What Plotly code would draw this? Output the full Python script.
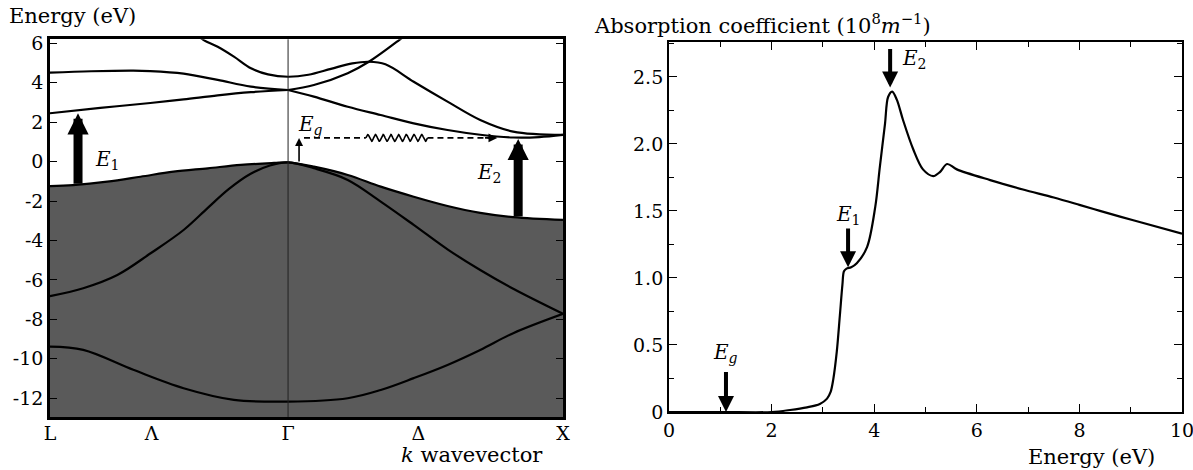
import numpy as np
import plotly.graph_objects as go

# ---------------- Band structure (left panel) ----------------
K_L, K_G, K_X = 0.0, 0.866, 1.866
k_tickvals = [0.0, 0.37, 0.866, 1.34, 1.866]
k_ticktext = ["L", "Λ", "Γ", "Δ", "X"]
e_tickvals = [-12, -10, -8, -6, -4, -2, 0, 2, 4, 6]
e_ticktext = ["-12", "-10", "-8", "-6", "-4", "-2", "0", "2", "4", "6"]
E_MIN, E_MAX = -12.95, 6.2

# top valence band (boundary of the filled region)
vb1_k = [0.0, 0.084, 0.208, 0.329, 0.449, 0.574, 0.694, 0.815, 0.866,
         0.960, 1.083, 1.203, 1.323, 1.446, 1.565, 1.685, 1.866]
vb1_e = [-1.24, -1.19, -1.02, -0.77, -0.51, -0.34, -0.17, -0.07, -0.04,
         -0.26, -0.68, -1.27, -1.78, -2.25, -2.60, -2.82, -2.96]
# second valence band
vb2_k = [0.0, 0.121, 0.245, 0.366, 0.486, 0.574, 0.65, 0.73, 0.80, 0.866,
         0.960, 1.083, 1.203, 1.323, 1.446, 1.565, 1.685, 1.866]
vb2_e = [-6.82, -6.42, -5.75, -4.65, -3.47, -2.35, -1.40, -0.62, -0.20, -0.04,
         -0.34, -0.93, -2.03, -3.21, -4.45, -5.50, -6.45, -7.72]
# lowest valence band
vb3_k = [0.0, 0.121, 0.303, 0.486, 0.669, 0.866, 1.083, 1.203,
         1.323, 1.446, 1.565, 1.685, 1.866]
vb3_e = [-9.38, -9.55, -10.56, -11.49, -12.08, -12.17, -12.0,
         -11.58, -10.98, -10.31, -9.55, -8.70, -7.72]
# conduction bands
cbL1_k = [0.0, 0.183, 0.365, 0.486, 0.610, 0.731, 0.866]
cbL1_e = [2.45, 2.72, 2.97, 3.15, 3.36, 3.52, 3.63]
cbL2_k = [0.0, 0.150, 0.303, 0.365, 0.486, 0.610, 0.731, 0.866]
cbL2_e = [4.51, 4.58, 4.61, 4.59, 4.46, 4.14, 3.80, 3.63]
cbA_k = [0.52, 0.559, 0.610, 0.669, 0.731, 0.793, 0.866, 0.94, 1.022,
         1.10, 1.16, 1.22, 1.323, 1.446, 1.565, 1.685, 1.866]
cbA_e = [6.6, 6.16, 5.82, 5.32, 4.73, 4.42, 4.30, 4.40, 4.70,
         4.98, 5.06, 4.93, 4.05, 3.04, 2.11, 1.52, 1.35]
cbB_k = [0.866, 0.96, 1.083, 1.16, 1.27, 1.31]
cbB_e = [3.63, 3.88, 4.48, 5.06, 6.16, 6.6]
cbC_k = [0.866, 0.96, 1.083, 1.203, 1.323, 1.446, 1.565, 1.685, 1.78, 1.866]
cbC_e = [3.63, 3.29, 2.78, 2.36, 1.94, 1.60, 1.36, 1.22, 1.24, 1.35]

# transitions
E1_k, E1_from, E1_to = 0.102, -1.2, 2.45
E2_k, E2_from, E2_to = 1.703, -2.86, 1.15
Eg_k, Eg_from, Eg_to = 0.906, -0.07, 1.2
dash_e = 1.2
dash1 = [0.924, 1.149]
wave = [1.149, 1.373]
dash2 = [1.373, 1.627]
wave_periods, wave_amp = 8, 0.17

# ---------------- Absorption (right panel) ----------------
abs_x = [0, 1.0, 2.0, 2.36, 2.69, 2.94, 3.08, 3.15, 3.2, 3.27, 3.33, 3.38,
         3.41, 3.46, 3.55, 3.66, 3.86, 4.02, 4.11, 4.21, 4.27, 4.35, 4.44,
         4.56, 4.76, 4.95, 5.15, 5.28, 5.42, 5.61, 6.26, 6.9, 7.5, 8.0,
         8.4, 9.05, 10]
abs_y = [0, 0, 0, 0.015, 0.035, 0.06, 0.10, 0.15, 0.24, 0.45, 0.72, 0.95,
         1.05, 1.07, 1.08, 1.11, 1.23, 1.53, 1.83, 2.15, 2.35, 2.39, 2.33,
         2.18, 1.96, 1.81, 1.76, 1.79, 1.85, 1.81, 1.73, 1.66, 1.60, 1.545,
         1.50, 1.43, 1.33]
abs_xticks = [0, 2, 4, 6, 8, 10]
abs_yticks = [0, 0.5, 1.0, 1.5, 2.0, 2.5]
abs_yticktext = ["0", "0.5", "1.0", "1.5", "2.0", "2.5"]

FONT = "DejaVu Serif, serif"
FILL = "#5a5a5a"

fig = go.Figure()

# baseline for the filled valence region, then the top band filled down to it
fig.add_trace(go.Scatter(x=[K_L, K_X], y=[E_MIN - 1, E_MIN - 1], mode="lines",
                         line=dict(width=0, color=FILL), hoverinfo="skip",
                         xaxis="x", yaxis="y", showlegend=False))
fig.add_trace(go.Scatter(x=vb1_k, y=vb1_e, mode="lines", fill="tonexty", fillcolor=FILL,
                         line=dict(color="black", width=2.2, shape="spline", smoothing=1.0),
                         xaxis="x", yaxis="y", showlegend=False))

for kk, ee in [(vb2_k, vb2_e), (vb3_k, vb3_e),
               (cbL1_k, cbL1_e), (cbL2_k, cbL2_e), (cbA_k, cbA_e),
               (cbB_k, cbB_e), (cbC_k, cbC_e)]:
    fig.add_trace(go.Scatter(x=kk, y=ee, mode="lines",
                             line=dict(color="black", width=2.2, shape="spline", smoothing=1.0),
                             xaxis="x", yaxis="y", showlegend=False))

# dashed + wavy transfer line
for seg in (dash1, dash2):
    fig.add_trace(go.Scatter(x=seg, y=[dash_e, dash_e], mode="lines",
                             line=dict(color="black", width=1.6, dash="6px,4px"),
                             xaxis="x", yaxis="y", showlegend=False))
wx = np.linspace(wave[0], wave[1], 200)
wy = dash_e + wave_amp * np.sin(2 * np.pi * wave_periods * (wx - wave[0]) / (wave[1] - wave[0]))
fig.add_trace(go.Scatter(x=wx, y=wy, mode="lines", line=dict(color="black", width=1.6),
                         xaxis="x", yaxis="y", showlegend=False))

# absorption curve
fig.add_trace(go.Scatter(x=abs_x, y=abs_y, mode="lines",
                         line=dict(color="black", width=2.2, shape="spline", smoothing=0.9),
                         xaxis="x2", yaxis="y2", showlegend=False))

ann = []
def arrow(xref, yref, x, y0, y1, w, s):
    ann.append(dict(x=x, y=y1, ax=x, ay=y0, xref=xref, yref=yref, axref=xref, ayref=yref,
                    text="", showarrow=True, arrowhead=2, arrowwidth=w, arrowsize=s,
                    arrowcolor="black", standoff=0, startstandoff=0))

def label(xref, yref, x, y, txt, xanchor="center"):
    ann.append(dict(x=x, y=y, xref=xref, yref=yref, text=txt, showarrow=False,
                    xanchor=xanchor, yanchor="middle", font=dict(family=FONT, size=20, color="black")))

arrow("x", "y", E1_k, E1_from, E1_to, 9, 0.47)
arrow("x", "y", E2_k, E2_from, E2_to, 9, 0.47)
arrow("x", "y", Eg_k, Eg_from, Eg_to, 1.6, 1.0)
# arrowhead at the end of the dashed line
ann.append(dict(x=dash2[1], y=dash_e, ax=dash2[1] - 0.05, ay=dash_e, xref="x", yref="y",
                axref="x", ayref="y", text="", showarrow=True, arrowhead=2,
                arrowwidth=1.6, arrowsize=1.1, arrowcolor="black", standoff=0))
label("x", "y", 0.208, 0.08, "<i>E</i><sub>1</sub>")
label("x", "y", 1.60, -0.58, "<i>E</i><sub>2</sub>")
label("x", "y", 0.946, 1.86, "<i>E</i><sub><i>g</i></sub>")

# right-panel arrows
arrow("x2", "y2", 1.11, 0.31, 0.0, 4, 0.8)
arrow("x2", "y2", 3.49, 1.38, 1.08, 4, 0.8)
arrow("x2", "y2", 4.31, 2.72, 2.42, 4, 0.8)
label("x2", "y2", 1.11, 0.44, "<i>E</i><sub><i>g</i></sub>")
label("x2", "y2", 3.49, 1.47, "<i>E</i><sub>1</sub>")
label("x2", "y2", 4.50, 2.63, "<i>E</i><sub>2</sub>", xanchor="left")

# axis titles
def ptext(x, y, txt, xanchor):
    ann.append(dict(x=x, y=y, xref="paper", yref="paper", text=txt, showarrow=False,
                    xanchor=xanchor, yanchor="middle", font=dict(family=FONT, size=21, color="black")))
ptext(0.006, 0.967, "Energy (eV)", "left")
ptext(0.496, 0.949, "Absorption coefficient (10<sup>8</sup><i>m</i><sup>−1</sup>)", "left")
ptext(0.396, 0.031, "<i>k</i> wavevector", "center")
ptext(0.915, 0.028, "Energy (eV)", "center")

TICKFONT = dict(family=FONT, size=19, color="black")

fig.update_layout(
    width=1193, height=470, margin=dict(l=0, r=0, t=0, b=0, autoexpand=False),
    paper_bgcolor="white", plot_bgcolor="white",
    font=dict(family=FONT, size=19, color="black"),
    annotations=ann,
    shapes=[dict(type="line", xref="x", yref="y domain", x0=K_G, x1=K_G, y0=0, y1=1,
                 line=dict(color="#222", width=1))],
    xaxis=dict(domain=[0.0419, 0.4719], range=[K_L, K_X], anchor="y", automargin=False,
               tickvals=k_tickvals, ticktext=k_ticktext, ticks="", tickfont=TICKFONT,
               ticklabelstandoff=-3, ticklabeloverflow="allow",
               showline=True, linecolor="black", linewidth=2.5, mirror=True,
               showgrid=False, zeroline=False),
    yaxis=dict(domain=[0.1128, 0.9164], range=[E_MIN, E_MAX], anchor="x", automargin=False,
               tickvals=e_tickvals, ticktext=e_ticktext, ticks="inside", ticklen=7,
               tickcolor="black", tickwidth=1.2, tickfont=TICKFONT, ticklabeloverflow="allow",
               showline=True, linecolor="black", linewidth=2.5, mirror="ticks",
               showgrid=False, zeroline=False),
    xaxis2=dict(domain=[0.5608, 0.9908], range=[0, 10], anchor="y2", automargin=False,
                tickvals=abs_xticks, ticks="inside", ticklen=8, tickcolor="black", tickwidth=1.2,
                tickfont=TICKFONT, ticklabeloverflow="allow",
                minor=dict(dtick=1, ticks="inside", ticklen=5, tickcolor="black", tickwidth=1.2),
                showline=True, linecolor="black", linewidth=2, mirror="ticks",
                showgrid=False, zeroline=False),
    yaxis2=dict(domain=[0.1234, 0.9106], range=[0, 2.76], anchor="x2", automargin=False,
                tickvals=abs_yticks, ticktext=abs_yticktext, ticks="inside", ticklen=8,
                tickcolor="black", tickwidth=1.2, tickfont=TICKFONT, ticklabeloverflow="allow",
                minor=dict(dtick=0.25, ticks="inside", ticklen=5, tickcolor="black", tickwidth=1.2),
                showline=True, linecolor="black", linewidth=2, mirror="ticks",
                showgrid=False, zeroline=False),
)

fig.write_html("out.html", config={"displayModeBar": False},
               post_script="document.body.style.margin='0px';")
